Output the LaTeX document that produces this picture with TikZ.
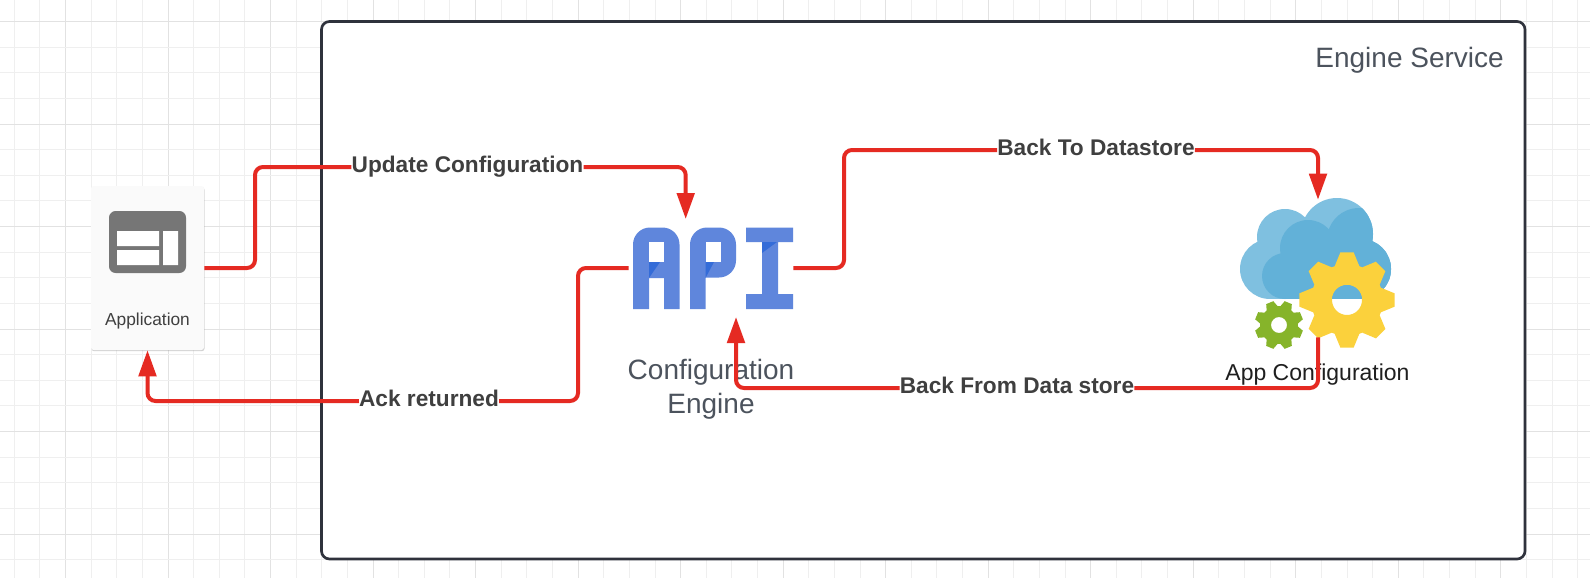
\documentclass[tikz,border=0pt]{standalone}
\usepackage{fontspec}
\setmainfont{Liberation Sans}
\usetikzlibrary{arrows.meta,shadows}
\definecolor{gridminor}{HTML}{EFEFEF}
\definecolor{gridmajor}{HTML}{E2E2E2}
\definecolor{framecol}{HTML}{2F323C}
\definecolor{wirecol}{HTML}{E52A22}
\definecolor{apiblue}{HTML}{5F86DC}
\definecolor{apidark}{HTML}{346CD8}
\definecolor{cloudlight}{HTML}{7FC0E0}
\definecolor{clouddark}{HTML}{62B1D8}
\definecolor{gearyellow}{HTML}{FBD13C}
\definecolor{geargreen}{HTML}{86B42A}
\definecolor{greytext}{HTML}{4C535D}
\definecolor{labeltext}{HTML}{3F3F3F}
\definecolor{iconcol}{HTML}{767676}
% cx cy rTip rRoot dTip dRoot colour rotation hole
\newcommand{\drawgear}[9]{%
  \begin{scope}[shift={(#1,#2)}]
  \fill[#7,even odd rule] (#8-#6:#4)
    \foreach \a in {0,45,...,315}{
      -- (\a+#8-#6:#4) -- (\a+#8-#5:#3) -- (\a+#8+#5:#3) -- (\a+#8+#6:#4)
    } -- cycle (0,0) circle[radius=#9];
  \end{scope}}
\tikzset{
  wire/.style={draw=wirecol,line width=3pt,rounded corners=6pt},
  wirearrow/.style={wire,-{Triangle[length=19.5pt,width=13pt]}},
  flowlabel/.style={font=\fontsize{17}{20}\selectfont\bfseries,text=labeltext,inner xsep=0pt,inner ysep=0pt,text height=13.4pt,text depth=5.85pt},
  greylabel/.style={font=\fontsize{21}{25.5}\selectfont,text=greytext,inner sep=0pt},
  iconarea/.style={inner sep=0pt,draw=none},
  card/.style={fill=white!98!black,rounded corners=2pt,inner sep=0pt,minimum width=84.75pt,minimum height=123pt,drop shadow={opacity=0.35,shadow xshift=0.4pt,shadow yshift=-0.9pt}},
}
\begin{document}
\begin{tikzpicture}[x=0.75pt,y=-0.75pt]
\useasboundingbox (0,0) rectangle (1590,578);
\fill[white] (0,0) rectangle (1590,578);
% grid
\foreach \i in {-2,...,60}{
  \pgfmathsetmacro{\gx}{65.5+25.63*\i}
  \pgfmathtruncatemacro{\m}{mod(\i+8,4)}
  \ifnum\m=0 \draw[gridmajor,line width=0.75pt] (\gx,0) -- (\gx,578);
  \else \draw[gridminor,line width=0.75pt] (\gx,0) -- (\gx,578); \fi
}
\foreach \i in {-1,...,22}{
  \pgfmathsetmacro{\gy}{21.5+25.63*\i}
  \pgfmathtruncatemacro{\m}{mod(\i+8,4)}
  \ifnum\m=0 \draw[gridmajor,line width=0.75pt] (0,\gy) -- (1590,\gy);
  \else \draw[gridminor,line width=0.75pt] (0,\gy) -- (1590,\gy); \fi
}
% frame
\draw[framecol,line width=2pt,fill=white,rounded corners=6pt] (321.5,21.5) rectangle (1525,559);
\node[greylabel,anchor=east] (svc) at (1504,60) {Engine Service};
% application card
\node[card] (app) at (147.5,268) {};
\fill[iconcol,rounded corners=5pt] (109,211) rectangle (186,273);
\fill[white] (117,231) rectangle (159,246) (117,250) rectangle (159,265) (163,231) rectangle (178,265);
\node[inner sep=0pt,font=\fontsize{13}{16}\selectfont,text=labeltext] (apptext) at (147.5,321) {Application};
% API logo
\node[iconarea,minimum width=123pt,minimum height=73.5pt] (api) at (711,268) {};
\fill[apiblue,rounded corners=12.75pt] (633,309) -- (633,227.5) -- (679.5,227.5) [sharp corners] -- (679.5,309) -- (664,309) -- (664,278) -- (649,278) -- (649,309) -- cycle;
\fill[white] (649,242) rectangle (664,262);
\fill[apiblue,rounded corners=12.75pt] (690,309) -- (690,227.5) -- (736,227.5) -- (736,277.5) [sharp corners] -- (705.5,277.5) -- (705.5,309) -- cycle;
\fill[white] (705.5,242) rectangle (720.5,262);
\fill[apiblue] (746,227.5) -- (793,227.5) -- (793,242) -- (778,242) -- (778,294) -- (793,294) -- (793,309) -- (746,309) -- (746,294) -- (762,294) -- (762,242) -- (746,242) -- cycle;
\fill[apidark] (649,262) -- (660,262) -- (649,278) -- cycle;
\fill[apidark] (705.5,262) -- (714,262) -- (705.5,278) -- cycle;
\fill[apidark] (762,242) -- (777,242) -- (762,253) -- cycle;
\node[greylabel,align=center] (apitext) at (711,389.5) {Configuration\\Engine};
\coordinate (apiin) at (685.7,219);
\coordinate (apiback) at (736,317);
% cloud
\node[iconarea,minimum width=120pt,minimum height=102.75pt] (store) at (1318,268.5) {};
\begin{scope}
\clip (1270,269) circle[radius=30] (1285,237) circle[radius=28] (1337,234) circle[radius=36] (1361,269) circle[radius=30] (1269,299) rectangle (1361,240);
\fill[cloudlight] (1230,190) rectangle (1400,299);
\fill[clouddark] (1285,276) circle[radius=23];
\fill[clouddark] (1308,248) circle[radius=28];
\fill[clouddark] (1359,240) circle[radius=32];
\fill[clouddark] (1285,262) rectangle (1400,299);
\fill[clouddark] (1330,240) rectangle (1400,299);
\end{scope}
% gears
\drawgear{1347}{300}{48}{36}{8}{20}{gearyellow}{0}{15}
\begin{scope}
\clip (1347,300) circle[radius=15];
\fill[clouddark] (1320,270) rectangle (1375,299);
\end{scope}
\drawgear{1279}{325}{24.5}{19}{9}{18}{geargreen}{22.5}{8}
\node[inner sep=0pt,font=\fontsize{17.25}{20}\selectfont,text=black!88] (storetext) at (1317.5,375) {App Configuration};
% labels
\node[flowlabel] (upd) at (467.5,167) {Update Configuration};
\node[flowlabel] (ack) at (429,401) {Ack returned};
\node[flowlabel] (bto) at (1096,150) {Back To Datastore};
\node[flowlabel] (bfr) at (1017,388) {Back From Data store};
% connectors
\coordinate (v1) at (255,167);
\draw[wire] (app.east) -| (v1) -- (upd.west);
\draw[wirearrow] (upd.east) -| (apiin);
\coordinate (v2) at (578,401);
\draw[wire] (api.west) -| (v2) -- (ack.east);
\draw[wirearrow] (ack.west) -| (app.south);
\coordinate (v3) at (844,150);
\draw[wire] (api.east) -| (v3) -- (bto.west);
\draw[wirearrow] (bto.east) -| (store.north);
\draw[wire] (store.south) |- (bfr.east);
\draw[wirearrow] (bfr.west) -| (apiback);
\end{tikzpicture}
\end{document}
